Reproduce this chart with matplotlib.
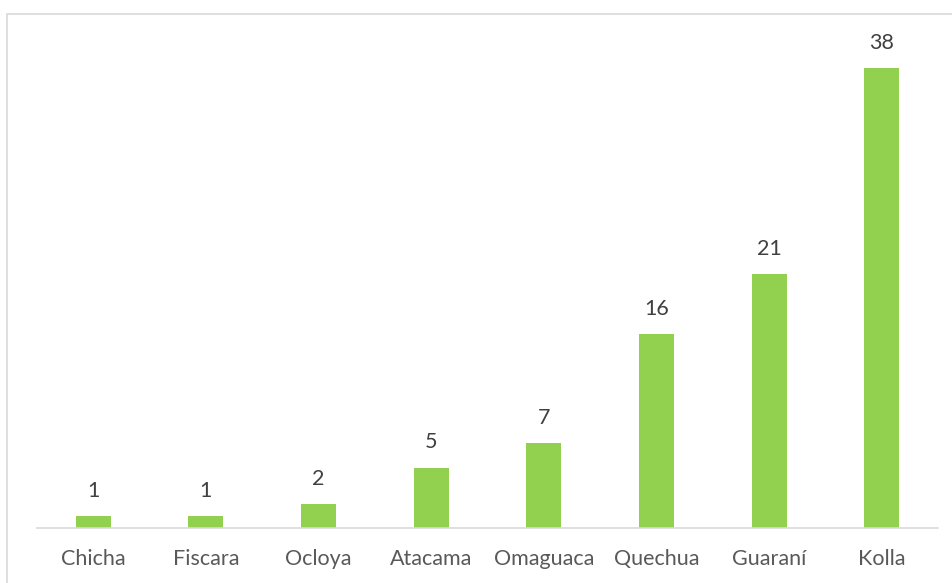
import matplotlib
matplotlib.use("Agg")
import matplotlib.pyplot as plt
from matplotlib.patches import Rectangle

categories = ["Chicha", "Fiscara", "Ocloya", "Atacama", "Omaguaca", "Quechua", "Guaraní", "Kolla"]
values = [1, 1, 2, 5, 7, 16, 21, 38]

W, H = 953, 583
fig = plt.figure(figsize=(W / 100, H / 100), dpi=100)
plt.rcParams['font.family'] = ['Lato', 'DejaVu Sans']

# outer frame
fig.patches.append(Rectangle((7 / W, -0.1), 1.2, (H - 14) / H + 0.1, transform=fig.transFigure,
                             fill=False, edgecolor="#D9D9D9", linewidth=1.2))

ax = fig.add_axes([37 / W, (H - 528) / H, (938 - 37) / W, 484 / H])
x = range(len(categories))
bars = ax.bar(x, values, width=0.31, color="#92D050")
ax.set_xlim(-0.5, len(categories) - 0.5)
ax.set_ylim(0, 40)
for xi, v in zip(x, values):
    ax.annotate(str(v), (xi, v), xytext=(0, 11), textcoords="offset points",
                ha="center", va="bottom", fontsize=15.5, color="#404040")
ax.set_xticks(list(x))
ax.set_xticklabels(categories, fontsize=15.5, color="#595959")
ax.tick_params(axis="x", length=0, pad=15)
ax.set_yticks([])
for s in ["top", "right", "left"]:
    ax.spines[s].set_visible(False)
ax.spines["bottom"].set_color("#D9D9D9")
ax.spines["bottom"].set_linewidth(1.2)

fig.savefig("out.png", dpi=100)
